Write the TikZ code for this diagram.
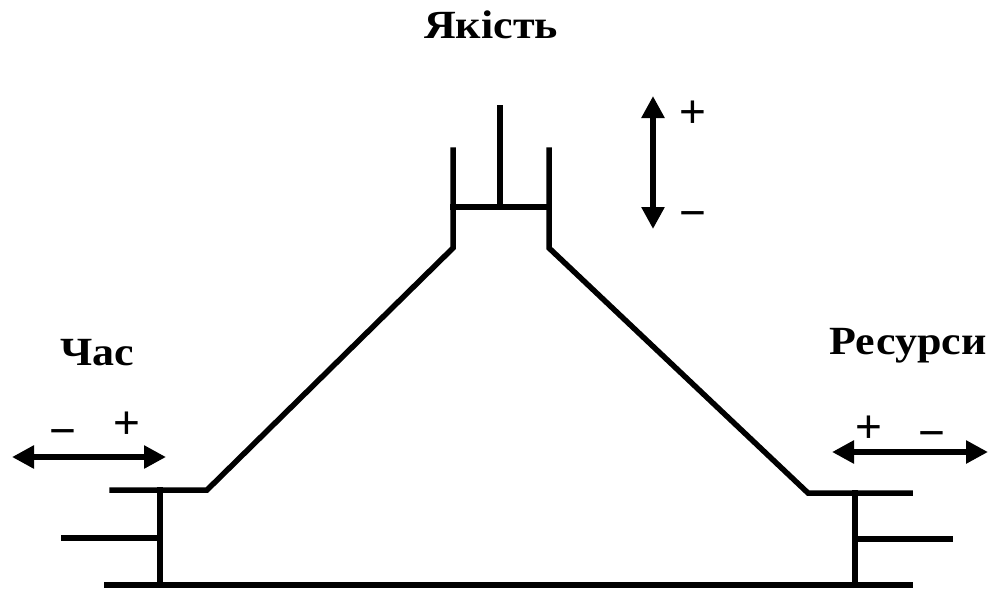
\documentclass[tikz,border=0pt]{standalone}
\usepackage{fontspec}
\setmainfont{Liberation Serif}
\newfontfamily\signfont{Liberation Sans}
\usetikzlibrary{arrows.meta}
\begin{document}
\begin{tikzpicture}[x=1pt,y=-1pt,
  shape line/.style={line width=5.5pt,line cap=rect},
  dbl arrow/.style={line width=5.5pt,{Triangle[length=22pt,width=22pt]}-{Triangle[length=22pt,width=22pt]}},
  title/.style={font=\bfseries\fontsize{40}{42}\selectfont,inner sep=0pt,anchor=base,xscale=1.1},
  sign/.style={font=\signfont\fontsize{46}{48}\selectfont,inner sep=0pt}]
\useasboundingbox (0,0) rectangle (995,590);
% named points of the outline
\coordinate (b0) at (107,585);
\coordinate (b1) at (910,585);
\coordinate (lv0) at (160,490);
\coordinate (lv1) at (160,585);
\coordinate (ls0) at (112,490);
\coordinate (ls1) at (207,490);
\coordinate (lm0) at (64,538);
\coordinate (lm1) at (160,538);
\coordinate (tl0) at (453,150);
\coordinate (tl1) at (453,248);
\coordinate (tr0) at (549,150);
\coordinate (tr1) at (549,248);
\coordinate (cb0) at (453,207);
\coordinate (cb1) at (549,207);
\coordinate (cv0) at (500,108);
\coordinate (cv1) at (500,207);
\coordinate (rs0) at (808,493);
\coordinate (rs1) at (910,493);
\coordinate (rv0) at (855,493);
\coordinate (rv1) at (855,585);
\coordinate (rm0) at (855,539);
\coordinate (rm1) at (950,539);
% outline
\draw[shape line] (b0) -- (b1);
\draw[shape line] (lv0) -- (lv1);
\draw[shape line] (lm0) -- (lm1);
\draw[shape line,line join=miter] (ls0) -- (ls1) -- (tl1) -- (tl0);
\draw[shape line] (cb0) -- (cb1);
\draw[shape line] (cv0) -- (cv1);
\draw[shape line,line join=miter] (tr0) -- (tr1) -- (rs0) -- (rs1);
\draw[shape line] (rv0) -- (rv1);
\draw[shape line] (rm0) -- (rm1);
% arrows
\coordinate (qa0) at (653,96);
\coordinate (qa1) at (653,229);
\coordinate (ta0) at (12,457);
\coordinate (ta1) at (166,457);
\coordinate (ra0) at (832,452);
\coordinate (ra1) at (988,452);
\draw[dbl arrow] (qa0) -- (qa1);
\draw[dbl arrow] (ta0) -- (ta1);
\draw[dbl arrow] (ra0) -- (ra1);
% labels
\node[title] (quality) at (491,38) {Якість};
\node[title] (time) at (97,365) {Час};
\node[title] (res) at (908,354) {Ресурси};
\node[sign] (qp) at (693,114) {+};
\node[sign] (qm) at (693,220) {−};
\node[sign] (tm) at (63,438) {−};
\node[sign] (tp) at (127,425) {+};
\node[sign] (rp) at (869,429) {+};
\node[sign] (rm) at (932,440) {−};
\end{tikzpicture}
\end{document}
